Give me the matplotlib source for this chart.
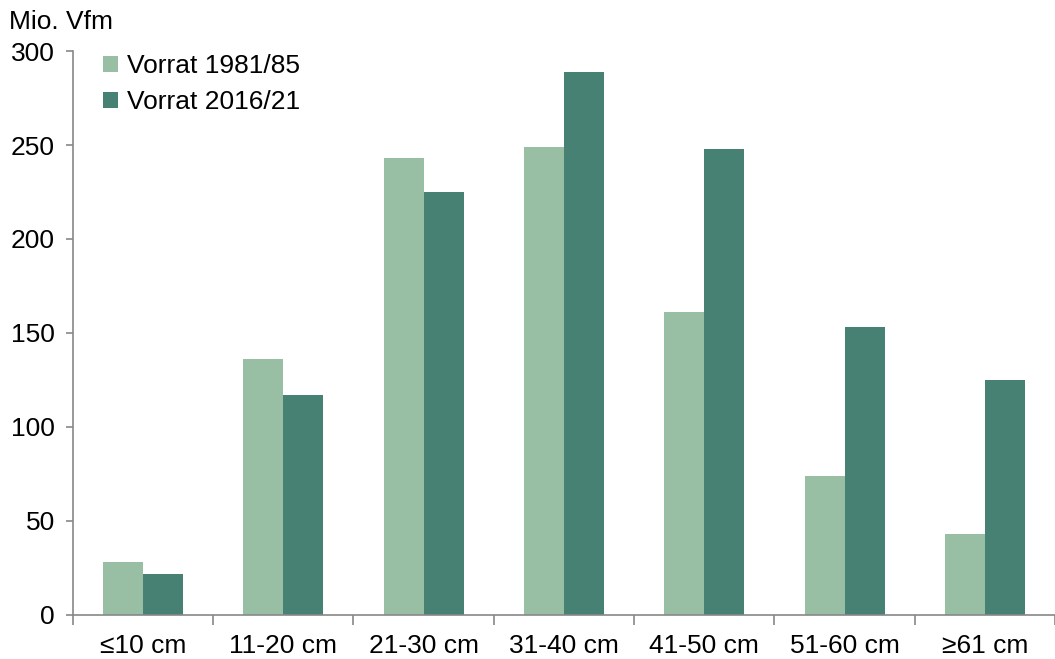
import matplotlib
matplotlib.use("Agg")
import matplotlib.pyplot as plt
import numpy as np

categories = ["≤10 cm", "11-20 cm", "21-30 cm", "31-40 cm", "41-50 cm", "51-60 cm", "≥61 cm"]
vorrat_1981 = [28, 136, 243, 249, 161, 74, 43]
vorrat_2016 = [22, 117, 225, 289, 248, 153, 125]
series_labels = ["Vorrat 1981/85", "Vorrat 2016/21"]
yticks = [0, 50, 100, 150, 200, 250, 300]

plt.rcParams['font.family'] = ['Liberation Sans', 'DejaVu Sans']
FS = 19

fig = plt.figure(figsize=(10.55, 6.59), dpi=100)
ax = fig.add_axes([0.069, 0.0668, 0.931, 0.8558])

x = np.arange(len(categories))
w = 0.285
c1, c2 = "#98bfa3", "#468174"
ax.bar(x - w/2, vorrat_1981, w, color=c1, label=series_labels[0])
ax.bar(x + w/2, vorrat_2016, w, color=c2, label=series_labels[1])

ax.set_xlim(-0.5, len(categories) - 0.5)
ax.set_ylim(0, 300)
ax.set_yticks(yticks)
ax.set_yticklabels([str(v) for v in yticks], fontsize=FS)
ax.set_xticks(x)
ax.set_xticklabels(categories, fontsize=FS)
ax.tick_params(axis='x', length=0, pad=14)
ax.set_xticks(np.arange(len(categories) + 1) - 0.5, minor=True)
ax.tick_params(axis='x', which='minor', length=7, color='#888888', width=1.2)
ax.tick_params(axis='y', length=5, color='#888888', width=1.2, pad=8)

for s in ['top', 'right']:
    ax.spines[s].set_visible(False)
for s in ['left', 'bottom']:
    ax.spines[s].set_color('#888888')
    ax.spines[s].set_linewidth(1.2)

fig.text(0.009, 0.985, "Mio. Vfm", fontsize=FS, ha='left', va='top')

ax.legend(loc='upper left', bbox_to_anchor=(0.007, 1.036), frameon=False, fontsize=FS,
          handlelength=0.55, handleheight=0.55, handletextpad=0.35, labelspacing=0.45)

fig.savefig("out.png", dpi=100)
